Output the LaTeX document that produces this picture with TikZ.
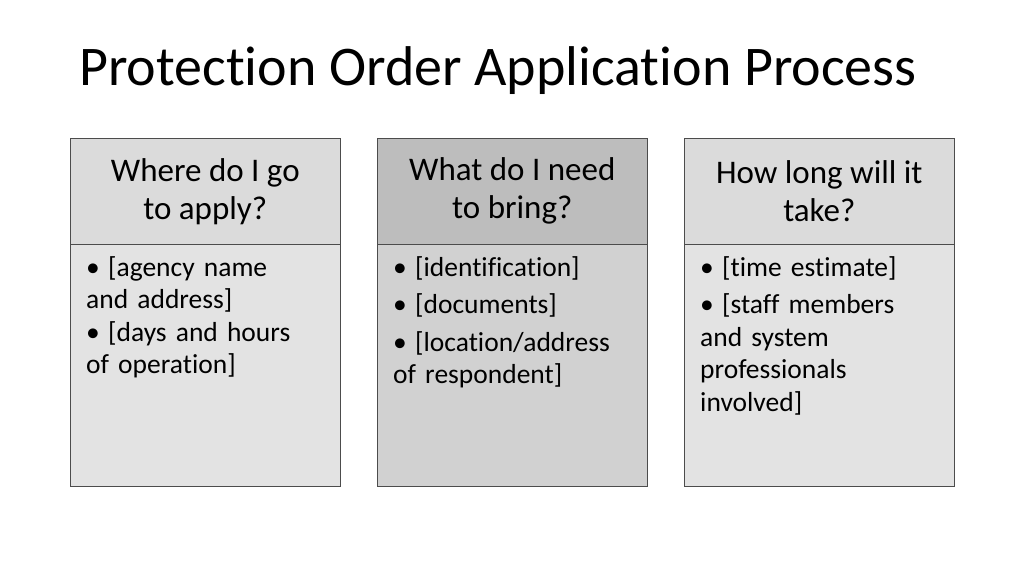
\documentclass[tikz,border=0pt]{standalone}
\usepackage{fontspec}
\setmainfont{Carlito}[Ligatures={NoCommon}]
\begin{document}
\begin{tikzpicture}[x=1pt,y=-1pt,
 hdr/.style={draw=black!70,line width=0.6pt,minimum width=270pt,minimum height=106pt,anchor=north west,align=center,font=\fontsize{33}{38}\selectfont,inner sep=0pt},
 bdy/.style={draw=black!70,line width=0.6pt,minimum width=270pt,minimum height=242pt,anchor=north west,inner sep=0pt},
 lst/.style={anchor=north west,text width=250pt,font=\fontsize{27.5}{32.5}\selectfont,inner sep=0pt}]
\useasboundingbox (0,0) rectangle (1024,576);
\node[anchor=base west,font=\fontsize{56}{60}\selectfont,inner sep=0pt] (title) at (79,85) {Protection Order Application Process};
\foreach \i/\x/\hc/\bc/\hdtext in {1/70/black!14/black!11/{Where do I go\\to apply?},2/377/black!26/black!18/{What do I need\\to bring?},3/684/black!14/black!11/{How long will it\\take?}}{
 \node[bdy,fill=\bc] (b\i) at (\x,244) {};
 \node[hdr,fill=\hc] (h\i) at (\x,138) {\hdtext};
}
\newcommand\itm[1]{\noindent\hangindent=22pt\hangafter=1\makebox[22pt][l]{\textbullet}#1\par}
\node[lst] (l1) at (86,256) {\raggedright\itm{[agency name\\and address]}\itm{[days and hours\\of operation]}};
\node[lst] (l2) at (393,256) {\raggedright\itm{[identification]}\vspace{5pt}\itm{[documents]}\vspace{5pt}\itm{[location/address\\of respondent]}};
\node[lst] (l3) at (700,256) {\raggedright\itm{[time estimate]}\vspace{5pt}\itm{[staff members\\and system\\professionals\\involved]}};
\end{tikzpicture}
\end{document}
